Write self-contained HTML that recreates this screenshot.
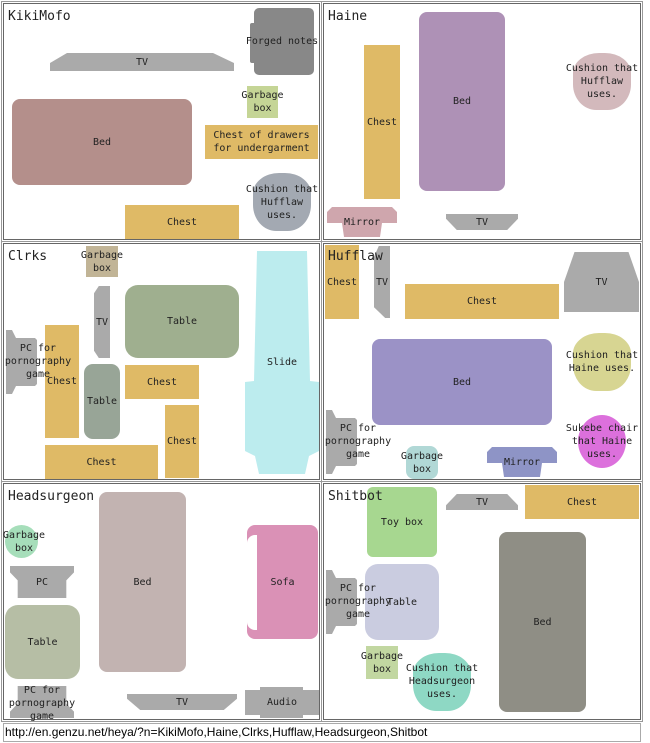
<!DOCTYPE html>
<html><head><meta charset="utf-8"><style>
*{margin:0;padding:0;box-sizing:border-box}
body{width:650px;height:743px;background:#fff;position:relative;overflow:hidden;font-family:"DejaVu Sans Mono","Liberation Mono",monospace;font-size:10px;color:#222}
.room{position:absolute;border:1px solid #666;outline:1px solid #999;outline-offset:1px}
.t{position:absolute;font-size:13px;color:#222}
.i{position:absolute;display:flex;align-items:center;justify-content:center;text-align:center;line-height:13px;white-space:nowrap}
.ch{background:#dfba66}
.tv{background:#aaa}
.pc{background:#aaa;clip-path:polygon(0 0,6px 0,10px 8px,29px 8px,31px 10px,31px 54px,29px 56px,10px 56px,6px 64px,0 64px)}
</style></head><body>
<div class="room" style="left:3px;top:3px;width:317px;height:237px"></div>
<div class="room" style="left:323px;top:3px;width:318px;height:237px"></div>
<div class="room" style="left:3px;top:243px;width:317px;height:237px"></div>
<div class="room" style="left:323px;top:243px;width:318px;height:237px"></div>
<div class="room" style="left:3px;top:483px;width:317px;height:237px"></div>
<div class="room" style="left:323px;top:483px;width:318px;height:237px"></div>

<!-- KikiMofo -->
<div class="i" style="left:250px;top:23px;width:8px;height:40px;background:#888;border-radius:2px"></div>
<div class="i" style="left:254px;top:8px;width:60px;height:67px;background:#888;border-radius:5px"></div>
<div class="i" style="left:246px;top:8px;width:72px;height:67px">Forged notes</div>
<div class="i tv" style="left:50px;top:53px;width:184px;height:18px;clip-path:polygon(17px 0,163px 0,184px 10px,184px 18px,0 18px,0 10px)">TV</div>
<div class="i" style="left:247px;top:86px;width:31px;height:32px;background:#c5d596">Garbage<br>box</div>
<div class="i" style="left:12px;top:99px;width:180px;height:86px;background:#b48f8b;border-radius:8px">Bed</div>
<div class="i ch" style="left:205px;top:125px;width:113px;height:34px">Chest of drawers<br>for undergarment</div>
<div class="i" style="left:253px;top:173px;width:58px;height:58px;background:#a3a9b2;border-radius:45% 45% 40% 40%/35% 35% 45% 45%">Cushion that<br>Hufflaw<br>uses.</div>
<div class="i ch" style="left:125px;top:205px;width:114px;height:34px">Chest</div>
<div class="t" style="left:8px;top:9px">KikiMofo</div>

<!-- Haine -->
<div class="i ch" style="left:364px;top:45px;width:36px;height:154px">Chest</div>
<div class="i" style="left:419px;top:12px;width:86px;height:179px;background:#ae91b6;border-radius:8px">Bed</div>
<div class="i" style="left:573px;top:53px;width:58px;height:57px;background:#d3b9bc;border-radius:45% 45% 40% 40%/35% 35% 45% 45%">Cushion that<br>Hufflaw<br>uses.</div>
<div class="i" style="left:327px;top:207px;width:70px;height:30px;background:#cfa6ad;clip-path:polygon(5px 0,65px 0,70px 5px,70px 16px,55px 16px,53px 30px,17px 30px,15px 16px,0 16px,0 5px)">Mirror</div>
<div class="i tv" style="left:446px;top:214px;width:72px;height:16px;clip-path:polygon(0 0,100% 0,100% 30%,85% 100%,15% 100%,0 30%)">TV</div>
<div class="t" style="left:328px;top:9px">Haine</div>

<!-- Clrks -->
<div class="i" style="left:86px;top:246px;width:32px;height:31px;background:#c1b496">Garbage<br>box</div>
<div class="i tv" style="left:94px;top:286px;width:16px;height:72px;clip-path:polygon(30% 0,100% 0,100% 100%,30% 100%,0 90%,0 10%)">TV</div>
<div class="i" style="left:125px;top:285px;width:114px;height:73px;background:#9faf8f;border-radius:13px">Table</div>
<div class="i ch" style="left:45px;top:325px;width:34px;height:113px">Chest</div>
<div class="i pc" style="left:6px;top:330px;width:31px;height:64px"></div>
<div class="i" style="left:2px;top:330px;width:72px;height:62px">PC for<br>pornography<br>game</div>
<div class="i" style="left:84px;top:364px;width:36px;height:75px;background:#98a597;border-radius:9px">Table</div>
<div class="i ch" style="left:125px;top:365px;width:74px;height:34px">Chest</div>
<div class="i ch" style="left:165px;top:405px;width:34px;height:73px">Chest</div>
<div class="i ch" style="left:45px;top:445px;width:113px;height:34px">Chest</div>
<div class="i" style="left:245px;top:251px;width:74px;height:223px;background:#bcecee;border-radius:5px;clip-path:polygon(12px 0,62px 0,65px 130px,74px 131px,74px 200px,64px 205px,60px 223px,14px 223px,10px 205px,0 200px,0 131px,9px 130px)">Slide</div>
<div class="t" style="left:8px;top:249px">Clrks</div>

<!-- Hufflaw -->
<div class="i ch" style="left:325px;top:245px;width:34px;height:74px">Chest</div>
<div class="i tv" style="left:374px;top:246px;width:16px;height:72px;clip-path:polygon(30% 0,100% 0,100% 100%,70% 100%,0 85%,0 15%)">TV</div>
<div class="i ch" style="left:405px;top:284px;width:154px;height:35px">Chest</div>
<div class="i tv" style="left:564px;top:252px;width:75px;height:60px;clip-path:polygon(14% 0,86% 0,100% 50%,100% 100%,0 100%,0 50%)">TV</div>
<div class="t" style="left:328px;top:249px">Hufflaw</div>
<div class="i" style="left:372px;top:339px;width:180px;height:86px;background:#9b92c6;border-radius:8px">Bed</div>
<div class="i" style="left:573px;top:333px;width:58px;height:58px;background:#d7d592;border-radius:45% 45% 40% 40%/35% 35% 45% 45%">Cushion that<br>Haine uses.</div>
<div class="i pc" style="left:326px;top:410px;width:31px;height:64px"></div>
<div class="i" style="left:322px;top:410px;width:72px;height:62px">PC for<br>pornography<br>game</div>
<div class="i" style="left:406px;top:446px;width:32px;height:33px;background:#b1d8d6;border-radius:8px">Garbage<br>box</div>
<div class="i" style="left:487px;top:447px;width:70px;height:30px;background:#8e94c6;clip-path:polygon(5px 0,65px 0,70px 5px,70px 16px,55px 16px,53px 30px,17px 30px,15px 16px,0 16px,0 5px)">Mirror</div>
<div class="i" style="left:578px;top:415px;width:48px;height:53px;background:#dc70dc;border-radius:50%"></div>
<div class="i" style="left:562px;top:415px;width:80px;height:52px">Sukebe chair<br>that Haine<br>uses.</div>

<!-- Headsurgeon -->
<div class="i" style="left:5px;top:525px;width:33px;height:33px;background:#a6deba;border-radius:50%"></div>
<div class="i" style="left:0px;top:525px;width:48px;height:33px">Garbage<br>box</div>
<div class="i tv" style="left:10px;top:566px;width:64px;height:32px;clip-path:polygon(0 0,100% 0,100% 20%,88% 45%,88% 100%,12% 100%,12% 45%,0 20%)">PC</div>
<div class="i" style="left:5px;top:605px;width:75px;height:74px;background:#b6bea5;border-radius:13px">Table</div>
<div class="i" style="left:99px;top:492px;width:87px;height:180px;background:#c2b3b1;border-radius:8px">Bed</div>
<div class="i" style="left:247px;top:525px;width:71px;height:114px;background:#da91b6;border-radius:8px">Sofa</div>
<div class="i" style="left:247px;top:535px;width:10px;height:95px;background:#fff;border-radius:8px 0 0 8px"></div>
<div class="i tv" style="left:10px;top:686px;width:64px;height:32px;clip-path:polygon(12% 0,88% 0,88% 55%,100% 80%,100% 100%,0 100%,0 80%,12% 55%)"></div>
<div class="i" style="left:2px;top:684px;width:80px;height:38px">PC for<br>pornography<br>game</div>
<div class="i tv" style="left:127px;top:694px;width:110px;height:16px;clip-path:polygon(0 0,100% 0,100% 30%,88% 100%,12% 100%,0 30%)">TV</div>
<div class="i tv" style="left:245px;top:687px;width:74px;height:31px;clip-path:polygon(0 3px,15px 3px,15px 0,58px 0,58px 3px,74px 3px,74px 28px,58px 28px,58px 31px,15px 31px,15px 28px,0 28px)">Audio</div>
<div class="t" style="left:8px;top:489px">Headsurgeon</div>

<!-- Shitbot -->
<div class="i" style="left:367px;top:487px;width:70px;height:70px;background:#a7d790;border-radius:6px">Toy box</div>
<div class="i tv" style="left:446px;top:494px;width:72px;height:16px;clip-path:polygon(15% 0,85% 0,100% 70%,100% 100%,0 100%,0 70%)">TV</div>
<div class="i ch" style="left:525px;top:485px;width:114px;height:34px">Chest</div>
<div class="t" style="left:328px;top:489px">Shitbot</div>
<div class="i" style="left:499px;top:532px;width:87px;height:180px;background:#8f8e85;border-radius:8px">Bed</div>
<div class="i" style="left:365px;top:564px;width:74px;height:76px;background:#cacce0;border-radius:13px">Table</div>
<div class="i pc" style="left:326px;top:570px;width:31px;height:64px"></div>
<div class="i" style="left:322px;top:570px;width:72px;height:62px">PC for<br>pornography<br>game</div>
<div class="i" style="left:366px;top:646px;width:32px;height:33px;background:#c2d7a1"></div>
<div class="i" style="left:360px;top:646px;width:44px;height:33px">Garbage<br>box</div>
<div class="i" style="left:413px;top:653px;width:58px;height:58px;background:#8ed8c4;border-radius:45% 45% 40% 40%/35% 35% 45% 45%"></div>
<div class="i" style="left:400px;top:653px;width:84px;height:56px">Cushion that<br>Headsurgeon<br>uses.</div>

<div style="position:absolute;left:3px;top:723px;width:638px;height:19px;border:1px solid #aaa;font-family:'Liberation Sans',sans-serif;font-size:12px;line-height:17px;padding-left:1px;color:#000">http://en.genzu.net/heya/?n=KikiMofo,Haine,Clrks,Hufflaw,Headsurgeon,Shitbot</div>
</body></html>
